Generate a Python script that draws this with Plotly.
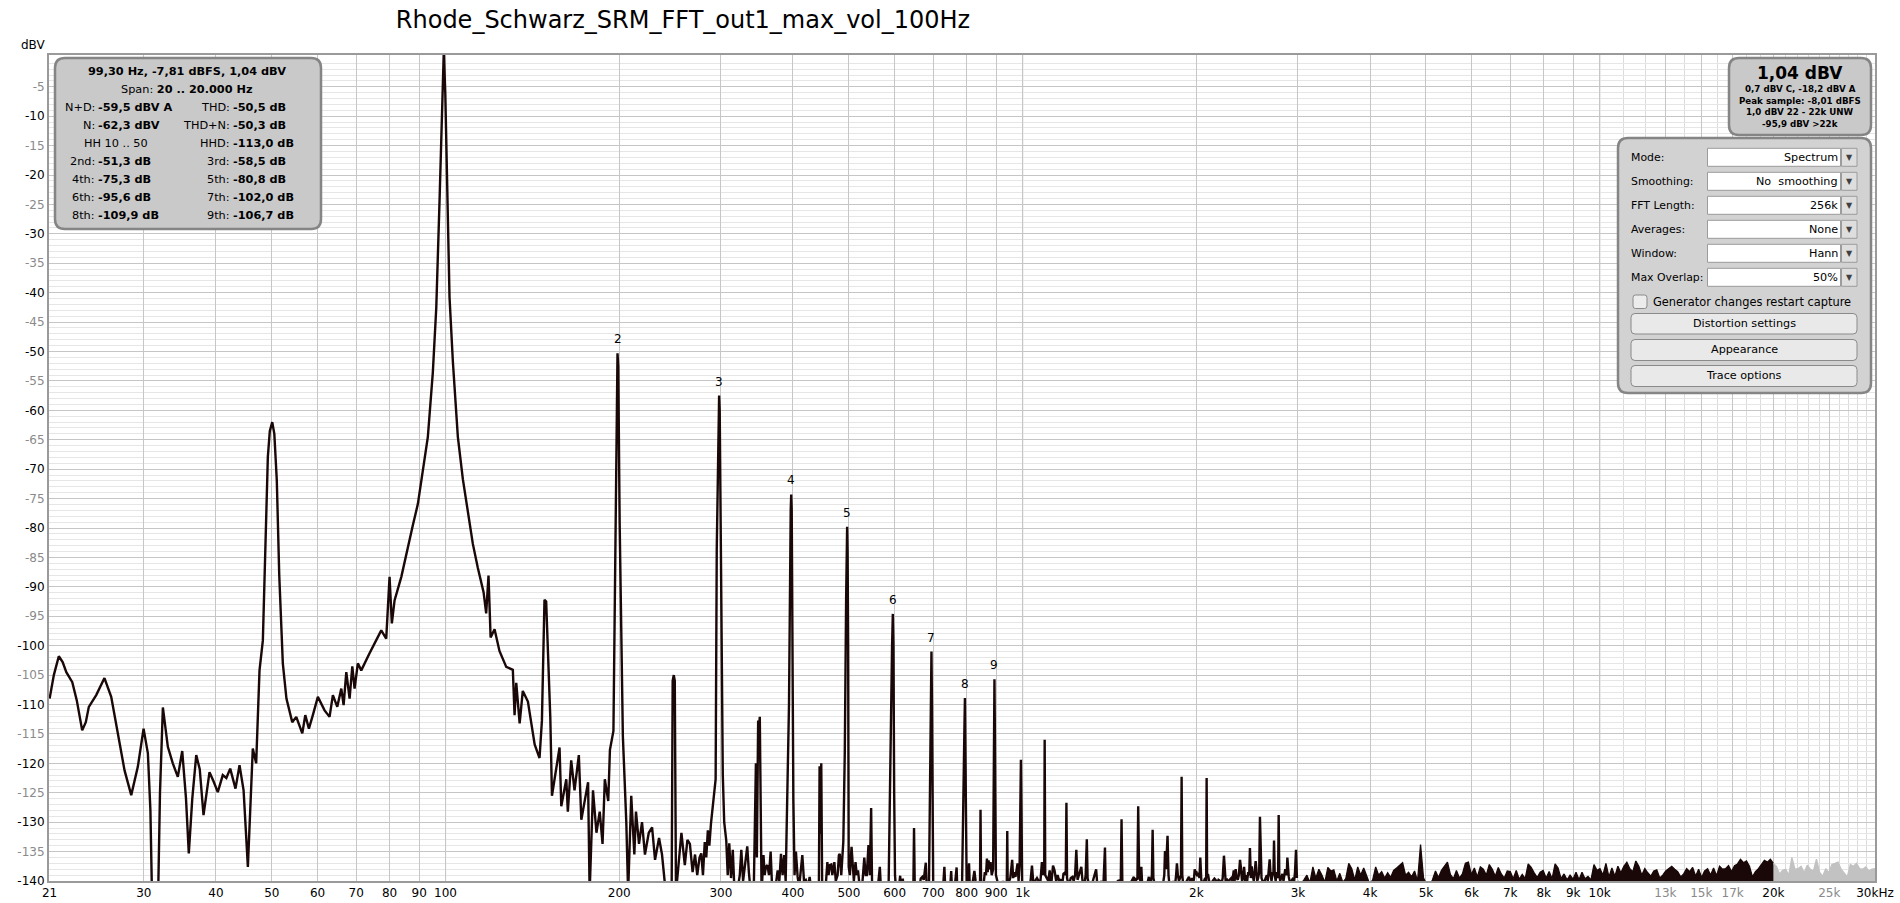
import numpy as np
import plotly.graph_objects as go

# ---------------------------------------------------------------- data
TITLE = "Rhode_Schwarz_SRM_FFT_out1_max_vol_100Hz"

# (Hz, dBV): fundamental region 20 Hz .. 203 Hz
BAND_LOW = [
    (20.6, -109.0), (20.95, -105.0), (21.37, -101.8), (21.7, -102.8), (22.02, -104.5),
    (22.55, -106.2), (22.96, -109.3), (23.46, -114.4), (23.8, -113.0), (24.09, -110.4),
    (24.81, -108.4), (25.64, -105.5), (26.34, -108.7), (27.04, -114.9), (27.78, -121.2),
    (28.53, -125.4), (29.29, -120.6), (29.97, -114.1), (30.49, -118.3), (30.8, -128.0),
    (31.03, -145.0), (31.73, -145.0), (32.0, -125.0), (32.37, -110.5), (33.02, -117.2),
    (33.68, -120.0), (34.36, -122.3), (34.97, -117.9), (35.5, -126.0), (35.9, -135.3),
    (36.4, -126.0), (36.98, -118.6), (37.5, -121.0), (38.07, -128.8), (38.99, -121.5),
    (39.6, -123.0), (40.3, -124.9), (41.11, -122.0), (41.7, -122.5), (42.35, -120.9),
    (43.25, -124.3), (43.95, -120.3), (44.67, -124.6), (45.44, -137.6), (46.0, -124.0),
    (46.34, -117.5), (46.97, -120.0), (47.6, -104.2), (48.24, -99.1), (48.7, -85.0),
    (49.21, -67.9), (49.6, -63.5), (50.08, -62.0), (50.5, -64.0), (51.0, -71.9),
    (51.5, -88.0), (52.24, -103.0), (53.0, -109.0), (54.24, -113.0), (55.12, -112.1),
    (56.46, -114.9), (57.14, -111.8), (57.97, -114.1), (58.89, -111.8), (60.08, -108.7),
    (61.71, -111.0), (62.95, -112.1), (63.79, -108.4), (64.92, -110.4), (65.97, -107.3),
    (66.58, -110.1), (67.3, -104.5), (68.19, -109.0), (68.93, -103.5), (69.56, -107.3),
    (70.47, -103.0), (71.44, -104.2), (73.84, -101.3), (75.84, -99.1), (77.37, -97.4),
    (78.92, -98.8), (79.98, -88.3), (80.71, -96.2), (81.59, -92.3), (83.82, -88.3),
    (86.03, -83.1), (87.78, -79.5), (89.55, -75.9), (91.34, -69.9), (93.18, -64.5),
    (95.06, -53.5), (96.36, -42.6), (97.63, -24.4), (98.69, -6.2), (99.3, 1.04),
    (99.9, -6.2), (100.68, -24.4), (101.6, -40.8), (102.96, -51.7), (105.03, -64.5),
    (107.15, -71.7), (109.3, -77.2), (111.51, -82.7), (113.76, -86.8), (116.38, -90.9),
    (117.6, -94.5), (118.7, -88.1), (119.7, -98.6), (121.6, -97.2), (124.0, -100.9),
    (127.4, -103.6), (130.8, -104.1), (131.7, -111.8), (132.6, -106.3), (134.4, -113.2),
    (136.1, -107.7), (138.9, -109.5), (142.7, -116.8), (145.5, -119.1), (146.9, -112.7),
    (148.4, -92.2), (149.4, -92.5), (150.4, -100.0), (151.9, -112.3), (152.9, -125.5),
    (155.6, -120.9), (157.6, -117.3), (158.7, -127.3), (161.9, -122.7), (162.9, -128.2),
    (165.1, -119.5), (167.3, -124.6), (170.2, -118.6), (171.9, -129.6), (174.2, -126.4),
    (176.6, -123.2), (177.7, -142.0), (180.1, -124.6), (182.6, -131.8), (185.0, -128.2),
    (187.1, -133.7), (188.8, -122.7), (191.4, -126.4), (192.7, -117.7), (195.4, -114.5),
    (197.1, -79.0), (198.1, -55.0), (199.2, -52.5), (200.3, -79.0), (202.9, -115.4),
]

# (Hz, dBV) 205 Hz .. 1 kHz: noise floor, hum lines and harmonic skirts
BAND_MID = [
    (205.7, -130.0), (207.2, -142.0), (209.8, -125.5), (212.4, -135.5), (213.8, -128.2),
    (216.4, -133.7), (219.0, -130.0), (221.6, -135.5), (225.0, -131.8), (228.0, -130.9),
    (230.7, -136.4), (234.4, -132.7), (237.2, -135.5), (240.8, -142.0), (246.5, -142.0),
    (247.5, -106.0), (248.6, -105.0), (249.6, -106.0), (250.8, -142.0), (256.3, -131.8),
    (259.8, -137.3), (262.5, -133.0), (265.1, -133.7), (268.0, -138.5), (270.6, -135.5),
    (273.0, -139.0), (275.5, -136.0), (277.4, -135.3), (279.3, -139.0), (281.3, -133.4),
    (283.0, -136.0), (284.8, -131.4), (286.5, -134.0), (288.4, -130.2), (290.1, -128.0),
    (292.0, -126.0), (293.8, -122.7), (295.1, -83.6), (297.3, -60.0), (298.6, -60.0),
    (300.3, -83.6), (302.3, -122.0), (304.0, -130.0), (306.5, -133.1), (308.3, -139.0),
    (310.2, -133.6), (312.4, -139.5), (314.6, -134.7), (316.5, -141.0), (320.0, -142.0),
    (323.5, -139.0), (325.5, -134.7), (327.8, -140.0), (330.0, -137.5), (333.3, -134.1),
    (335.5, -138.6), (338.0, -142.0), (342.0, -142.0), (345.0, -120.0), (346.3, -136.0),
    (348.1, -112.7), (349.2, -114.0), (350.4, -112.1), (352.9, -142.0), (355.6, -135.6),
    (357.3, -139.0), (359.0, -137.6), (361.2, -137.3), (363.5, -139.0), (365.9, -135.0),
    (368.0, -141.0), (372.0, -142.0), (376.3, -138.2), (378.8, -140.0), (381.3, -135.4),
    (383.8, -139.0), (386.3, -135.6), (388.5, -140.0), (391.4, -126.0), (393.7, -110.0),
    (396.4, -77.0), (398.0, -77.0), (399.5, -112.0), (400.6, -126.0), (402.5, -139.0),
    (404.7, -135.0), (407.5, -139.3), (410.0, -141.0), (415.2, -135.6), (418.0, -140.0),
    (421.0, -139.8), (424.5, -141.0), (427.5, -139.3), (431.0, -142.0), (438.0, -142.0),
    (443.5, -142.0), (444.8, -120.5), (446.3, -132.0), (447.8, -120.0), (449.5, -142.0),
    (455.0, -142.0), (458.8, -136.8), (461.0, -139.0), (463.5, -137.3), (466.0, -137.2),
    (468.0, -139.0), (471.8, -136.8), (474.5, -140.0), (478.0, -139.0), (480.4, -135.6),
    (482.1, -135.4), (485.0, -139.0), (489.0, -133.3), (491.9, -118.0), (494.5, -92.0),
    (495.6, -84.0), (497.4, -84.0), (498.5, -100.0), (499.6, -137.6), (502.0, -139.0),
    (505.3, -134.2), (508.0, -139.0), (510.0, -140.0), (513.4, -136.8), (516.0, -139.0),
    (518.5, -138.2), (522.0, -141.0), (527.0, -141.0), (531.7, -136.0), (534.5, -139.0),
    (537.0, -139.0), (540.6, -133.9), (543.5, -139.0), (546.4, -127.6), (548.5, -141.0),
    (553.0, -142.0), (560.0, -142.0), (565.7, -137.6), (568.0, -141.0), (575.0, -142.0),
    (582.0, -142.0), (586.0, -140.0), (588.5, -125.0), (591.0, -112.0), (594.0, -100.0),
    (597.3, -100.0), (599.0, -125.0), (601.0, -139.0), (604.0, -142.0), (609.0, -142.0),
    (613.5, -139.1), (616.0, -142.0), (620.0, -139.6), (623.0, -142.0), (635.0, -142.0),
    (646.5, -142.0), (648.4, -131.0), (650.5, -142.0), (660.0, -142.0), (666.0, -139.6),
    (670.2, -139.3), (674.0, -139.8), (679.6, -136.9), (682.0, -141.0), (688.0, -142.0),
    (691.0, -125.0), (693.5, -110.0), (696.5, -110.0), (698.5, -128.0), (700.0, -141.0),
    (705.0, -142.0), (718.0, -142.0), (727.0, -142.0), (731.9, -137.6), (735.0, -142.0),
    (748.0, -142.0), (752.0, -138.3), (755.0, -142.0), (761.0, -142.0), (768.5, -137.7),
    (771.0, -142.0), (785.0, -142.0), (790.0, -128.0), (792.5, -115.0), (796.0, -115.0),
    (798.0, -130.0), (800.0, -141.0), (804.0, -142.0), (807.5, -137.0), (810.0, -141.0),
    (820.0, -140.0), (825.0, -138.3), (829.0, -140.0), (836.0, -142.0), (843.5, -142.0),
    (845.4, -127.9), (847.5, -142.0), (855.0, -141.0), (860.0, -138.5), (864.0, -139.0),
    (867.3, -136.2), (870.0, -138.5), (873.0, -136.5), (876.0, -138.0), (880.0, -136.8),
    (884.0, -139.0), (889.0, -138.0), (891.0, -125.0), (892.8, -112.0), (894.8, -112.0),
    (896.5, -125.0), (899.0, -139.0), (904.0, -140.0), (910.0, -142.0), (918.0, -142.0),
    (925.0, -140.0), (930.0, -142.0), (938.5, -142.0), (940.6, -131.5), (942.5, -142.0),
    (948.0, -140.0), (952.0, -139.5), (959.2, -136.4), (963.0, -139.5), (968.0, -138.5),
    (972.0, -139.3), (980.0, -137.0), (984.0, -140.0), (988.0, -137.4), (991.5, -125.0),
    (993.3, -119.4), (995.5, -128.0), (998.0, -140.0), (1003.0, -142.0),
]

# (Hz, dBV) 1 kHz .. 3 kHz
BAND_UPPER = [
    (1012, -142.0), (1020, -141.0), (1030, -141.0), (1038, -137.4), (1045, -141.0),
    (1051, -140.0), (1059, -139.5), (1066, -140.0), (1072, -141.0), (1080, -136.8),
    (1085, -139.0), (1090, -138.0), (1092, -116.0), (1094.5, -139.0), (1102, -139.7),
    (1108, -140.0), (1114, -138.2), (1120, -141.0), (1129, -137.4), (1136, -138.2),
    (1143, -140.0), (1150, -139.0), (1157, -140.0), (1164, -139.7), (1170, -141.0),
    (1177, -138.8), (1183, -138.6), (1188, -139.0), (1191, -126.7), (1194, -139.5),
    (1202, -140.8), (1212, -139.5), (1220, -139.3), (1226, -140.0), (1233, -139.0),
    (1239, -134.7), (1245, -139.8), (1252, -139.0), (1258, -138.0), (1264, -137.6),
    (1270, -140.0), (1278, -141.0), (1286, -139.0), (1292, -132.9), (1296, -139.5),
    (1305, -141.0), (1315, -141.0), (1325, -139.8), (1335, -139.0), (1341, -138.0),
    (1348, -141.0), (1358, -141.0), (1370, -140.0), (1380, -141.0), (1389, -134.3),
    (1393, -141.0), (1405, -141.0), (1420, -141.0), (1435, -141.0), (1450, -141.0),
    (1462, -140.0), (1473, -139.9), (1479, -141.0), (1484, -129.5), (1489, -141.0),
    (1502, -141.0), (1515, -141.0), (1530, -141.0), (1545, -140.0), (1552, -139.5),
    (1559, -139.3), (1565, -141.0), (1575, -139.5), (1581, -139.8), (1586, -127.3),
    (1592, -139.0), (1600, -140.0), (1606, -137.6), (1612, -141.0), (1622, -141.0),
    (1630, -140.5), (1640, -141.0), (1648, -140.0), (1655, -139.3), (1662, -141.0),
    (1670, -140.0), (1675, -139.0), (1680, -131.3), (1685, -139.5), (1698, -141.0),
    (1710, -141.0), (1722, -140.5), (1735, -141.0), (1748, -141.0), (1756, -140.0),
    (1760, -139.0), (1765, -134.9), (1772, -138.0), (1783, -132.3), (1790, -139.0),
    (1798, -141.0), (1812, -141.0), (1825, -140.0), (1836, -141.0), (1845, -139.0),
    (1851, -137.0), (1858, -139.0), (1866, -140.0), (1874, -139.5), (1881, -139.0),
    (1886, -122.3), (1891, -139.0), (1900, -141.0), (1912, -141.0), (1925, -140.0),
    (1934, -139.6), (1942, -139.3), (1950, -140.0), (1958, -140.2), (1966, -139.5),
    (1975, -140.5), (1982, -139.5), (1987, -138.0), (1993, -139.0), (1999, -138.3),
    (2008, -139.2), (2018, -138.6), (2025, -139.5), (2032, -136.0), (2040, -139.8),
    (2050, -140.5), (2062, -140.0), (2072, -139.5), (2080, -140.0), (2084, -122.5),
    (2088, -139.0), (2095, -138.8), (2105, -140.0), (2120, -140.5), (2135, -140.0),
    (2150, -139.6), (2160, -139.8), (2170, -140.5), (2185, -139.8), (2200, -140.0),
    (2210, -140.5), (2222, -139.5), (2233, -135.7), (2240, -139.0), (2248, -140.0),
    (2258, -139.6), (2270, -140.2), (2285, -139.8), (2300, -139.5), (2310, -140.0),
    (2322, -138.2), (2330, -140.0), (2340, -138.0), (2350, -139.5), (2360, -139.8),
    (2370, -139.0), (2381, -136.4), (2390, -137.8), (2400, -140.0), (2410, -139.5),
    (2420, -137.6), (2430, -140.0), (2440, -139.0), (2450, -140.0), (2460, -138.5),
    (2470, -139.0), (2477, -134.4), (2486, -139.5), (2495, -137.5), (2505, -139.0),
    (2515, -140.0), (2525, -138.5), (2534, -136.6), (2542, -138.0), (2550, -140.0),
    (2560, -139.5), (2570, -138.5), (2578, -129.1), (2586, -138.0), (2594, -139.5),
    (2605, -140.0), (2620, -140.3), (2635, -139.6), (2650, -139.0), (2660, -140.0),
    (2670, -138.5), (2680, -136.3), (2690, -139.0), (2700, -140.0), (2712, -138.5),
    (2720, -139.0), (2727, -133.1), (2735, -139.0), (2745, -140.0), (2755, -138.5),
    (2765, -139.5), (2772, -138.5), (2778, -128.8), (2785, -139.0), (2795, -140.0),
    (2808, -139.5), (2820, -138.8), (2832, -140.0), (2842, -139.3), (2852, -138.0),
    (2862, -139.0), (2870, -138.5), (2876, -136.0), (2883, -138.5), (2892, -139.3),
    (2902, -140.0), (2915, -140.3), (2930, -139.8), (2945, -139.5), (2955, -140.0),
    (2965, -138.5), (2977, -134.7), (2988, -139.5),
]

# harmonic peaks of the 99.3 Hz fundamental
HARM_N = [2, 3, 4, 5, 6, 7, 8, 9]
HARM_F = [198.6, 297.9, 397.2, 496.5, 595.8, 695.1, 794.4, 893.7]
HARM_DB = [-50.3, -57.5, -74.3, -79.8, -94.6, -101.0, -108.9, -105.7]

# noise floor 3 kHz .. 20 kHz (dBV, read left to right, even spacing on the log axis)
NOISE_HI_RANGE = (3000.0, 20000.0)
NOISE_HI_DB = [
    -140.0, -140.5, -139.8, -139.0, -140.3, -137.6, -139.5, -138.0, -139.0, -140.2,
    -137.7, -138.3, -138.1, -140.0, -138.7, -140.2, -139.6, -137.0, -137.9, -139.8,
    -137.6, -139.0, -137.8, -139.0, -140.5, -139.8, -137.6, -139.0, -138.4, -139.5,
    -138.6, -139.4, -138.2, -137.8, -137.3, -136.9, -139.0, -138.5, -139.3, -138.3,
    -140.0, -133.8, -139.5, -140.5, -140.8, -139.8, -138.3, -139.4, -138.2, -137.4,
    -136.8, -138.9, -139.6, -138.2, -139.5, -138.8, -137.0, -136.8, -138.9, -137.8,
    -139.3, -137.6, -138.0, -139.0, -137.2, -138.0, -139.2, -137.7, -138.8, -139.5,
    -138.3, -138.4, -139.6, -138.2, -139.7, -138.9, -139.6, -137.1, -137.7, -138.6,
    -139.4, -138.5, -138.2, -139.5, -138.4, -139.6, -137.1, -137.8, -139.6, -138.8,
    -139.8, -139.0, -139.7, -138.5, -139.8, -138.5, -139.6, -139.2, -139.8, -137.2,
    -138.2, -137.9, -139.0, -137.0, -139.3, -137.8, -139.2, -137.5, -138.6, -137.5,
    -136.8, -137.9, -138.4, -136.6, -137.5, -139.0, -137.9, -138.6, -139.2, -138.3,
    -138.1, -139.5, -139.0, -138.3, -137.9, -137.5, -138.0, -138.4, -139.3, -138.8,
    -137.9, -138.4, -137.7, -139.2, -138.0, -139.4, -138.3, -137.9, -139.0, -137.8,
    -139.1, -137.5, -138.0, -137.9, -137.4, -138.4, -137.4, -137.1, -136.3, -136.9,
    -136.6, -137.5, -139.3, -138.4, -137.9, -137.1, -136.5, -136.8, -136.3, -137.0,
]

# out-of-band noise 20 kHz .. 30 kHz (drawn grey)
NOISE_UL_RANGE = (20000.0, 30000.0)
NOISE_UL_DB = [
    -137.0, -137.5, -138.8, -138.2, -138.0, -139.0, -136.0, -138.0, -137.9, -137.5,
    -138.6, -137.3, -138.0, -138.3, -136.3, -138.5, -139.2, -137.9, -138.6, -137.2,
    -137.0, -136.8, -138.0, -138.6, -139.3, -137.2, -137.5, -137.0, -137.9, -138.0,
    -137.6, -138.3, -138.0, -137.9,
]

X_TICK_VALS = [20.6, 30, 40, 50, 60, 70, 80, 90, 100, 200, 300, 400, 500, 600, 700, 800, 900,
               1000, 2000, 3000, 4000, 5000, 6000, 7000, 8000, 9000, 10000, 13000, 15000,
               17000, 20000, 25000, 30000]
X_TICK_TEXT = ["21", "30", "40", "50", "60", "70", "80", "90", "100", "200", "300", "400", "500",
               "600", "700", "800", "900", "1k", "2k", "3k", "4k", "5k", "6k", "7k", "8k", "9k",
               "10k", "13k", "15k", "17k", "20k", "25k", "30kHz"]
X_TICK_GREY = ["13k", "15k", "17k", "25k"]
X_MINOR_VALS = [11000, 12000, 14000, 16000, 18000, 19000, 21000, 22000, 23000, 24000,
                26000, 27000, 28000, 29000]
X_DECADES = [100, 1000, 10000]
Y_TICK_VALS = list(range(-5, -141, -5))
Y_MINOR_VALS = list(range(-1, -140, -1))

INFO_HEAD = ["<b>99,30 Hz, -7,81 dBFS, 1,04 dBV</b>", "Span: <b>20 .. 20.000 Hz</b>"]
INFO_LEFT_LABELS = ["N+D:", "N:", "", "2nd:", "4th:", "6th:", "8th:"]
INFO_LEFT_VALUES = ["-59,5 dBV A", "-62,3 dBV", "", "-51,3 dB", "-75,3 dB", "-95,6 dB", "-109,9 dB"]
INFO_RIGHT_LABELS = ["THD:", "THD+N:", "HHD:", "3rd:", "5th:", "7th:", "9th:"]
INFO_RIGHT_VALUES = ["-50,5 dB", "-50,3 dB", "-113,0 dB", "-58,5 dB", "-80,8 dB", "-102,0 dB", "-106,7 dB"]
INFO_HH = "HH 10 .. 50"

LEVEL_MAIN = "1,04 dBV"
LEVEL_LINES = ["0,7 dBV C, -18,2 dBV A", "Peak sample: -8,01 dBFS", "1,0 dBV 22 - 22k UNW", "-95,9 dBV >22k"]

CTRL_LABELS = ["Mode:", "Smoothing:", "FFT Length:", "Averages:", "Window:", "Max Overlap:"]
CTRL_VALUES = ["Spectrum", "No\u00a0 smoothing", "256k", "None", "Hann", "50%"]
CTRL_CHECK = "Generator changes restart capture"
CTRL_BUTTONS = ["Distortion settings", "Appearance", "Trace options"]

# ---------------------------------------------------------------- layout constants
W, H = 1900, 903
PL, PR, PT, PB = 49, 1875, 55, 881
F_MIN, F_MAX = 20.55, 30000.0
DB_MIN, DB_MAX = -140.0, 0.4
FONT = "DejaVu Sans"
LX0, LX1 = np.log10(F_MIN), np.log10(F_MAX)


def px(x):
    return (x - PL) / (PR - PL)


def py(y):
    return (PB - y) / (PB - PT)


def fx(f):
    return (np.log10(f) - LX0) / (LX1 - LX0)


def rrect(x0, y0, x1, y1, r):
    return (f"M {px(x0 + r)},{py(y0)} L {px(x1 - r)},{py(y0)} Q {px(x1)},{py(y0)} {px(x1)},{py(y0 + r)} "
            f"L {px(x1)},{py(y1 - r)} Q {px(x1)},{py(y1)} {px(x1 - r)},{py(y1)} "
            f"L {px(x0 + r)},{py(y1)} Q {px(x0)},{py(y1)} {px(x0)},{py(y1 - r)} "
            f"L {px(x0)},{py(y0 + r)} Q {px(x0)},{py(y0)} {px(x0 + r)},{py(y0)} Z")


# ---------------------------------------------------------------- traces
pts = BAND_LOW + BAND_MID + BAND_UPPER + list(zip(HARM_F, HARM_DB))
pts.sort(key=lambda p: p[0])
main_f = [p[0] for p in pts]
main_db = [p[1] for p in pts]

hi_f = list(np.geomspace(NOISE_HI_RANGE[0], NOISE_HI_RANGE[1], len(NOISE_HI_DB)))
ul_f = list(np.geomspace(NOISE_UL_RANGE[0], NOISE_UL_RANGE[1], len(NOISE_UL_DB)))

fig = go.Figure()
TRACE_COL = "#1a0808"
fig.add_trace(go.Scatter(x=main_f, y=main_db, mode="lines",
                         line=dict(color=TRACE_COL, width=2.4), hoverinfo="skip", showlegend=False))
fig.add_trace(go.Scatter(x=hi_f + [NOISE_HI_RANGE[1], NOISE_HI_RANGE[0]],
                         y=NOISE_HI_DB + [-150, -150], mode="lines", fill="toself",
                         fillcolor=TRACE_COL, line=dict(color=TRACE_COL, width=1.3),
                         hoverinfo="skip", showlegend=False))
fig.add_trace(go.Scatter(x=ul_f + [NOISE_UL_RANGE[1], NOISE_UL_RANGE[0]],
                         y=NOISE_UL_DB + [-150, -150], mode="lines", fill="toself",
                         fillcolor="#c2c2c2", line=dict(color="#c2c2c2", width=1.3),
                         hoverinfo="skip", showlegend=False))

# ---------------------------------------------------------------- shapes
shapes = []
shapes.append(dict(type="rect", xref="paper", yref="paper", x0=fx(20000), x1=1, y0=0, y1=1,
                   fillcolor="rgba(255,255,255,0.6)", line=dict(width=0), layer="between"))
for d in X_DECADES:
    shapes.append(dict(type="line", xref="paper", yref="paper", x0=fx(d), x1=fx(d), y0=0, y1=1,
                       line=dict(color="#8c8c8c", width=1), layer="between"))

PANEL_LINE = "#858585"
shapes.append(dict(type="path", xref="paper", yref="paper", path=rrect(55, 58, 321, 229, 10),
                   fillcolor="#c9c9c9", line=dict(color=PANEL_LINE, width=2.5), layer="above"))
shapes.append(dict(type="path", xref="paper", yref="paper", path=rrect(1729, 58, 1871, 135, 10),
                   fillcolor="#c9c9c9", line=dict(color=PANEL_LINE, width=2.5), layer="above"))
shapes.append(dict(type="path", xref="paper", yref="paper", path=rrect(1618, 138, 1871, 393, 10),
                   fillcolor="#d2d2d2", line=dict(color=PANEL_LINE, width=2.5), layer="above"))

ROW_Y = [157.3, 181.3, 205.3, 229.3, 253.3, 277.3]
for yc in ROW_Y:
    shapes.append(dict(type="rect", xref="paper", yref="paper", x0=px(1707.5), x1=px(1840.5),
                       y0=py(yc + 9), y1=py(yc - 9), fillcolor="#ffffff",
                       line=dict(color="#9c9c9c", width=1), layer="above"))
    shapes.append(dict(type="rect", xref="paper", yref="paper", x0=px(1841.5), x1=px(1857),
                       y0=py(yc + 9), y1=py(yc - 9), fillcolor="#dedede",
                       line=dict(color="#9c9c9c", width=1), layer="above"))
shapes.append(dict(type="path", xref="paper", yref="paper", path=rrect(1633, 295, 1647, 308.5, 2.5),
                   fillcolor="#ececec", line=dict(color="#8a8a8a", width=1), layer="above"))
BTN_Y = [(313.5, 334), (339.5, 360.5), (365.5, 386.5)]
for (b0, b1) in BTN_Y:
    shapes.append(dict(type="path", xref="paper", yref="paper", path=rrect(1631, b0, 1857, b1, 4),
                       fillcolor="#e9e9e9", line=dict(color="#8a8a8a", width=1), layer="above"))

# ---------------------------------------------------------------- annotations
ann = []


def txt(x, y, s, size=11, anchor="center", color="#000000", family=FONT):
    ann.append(dict(xref="paper", yref="paper", x=px(x), y=py(y), text=s, showarrow=False,
                    xanchor=anchor, yanchor="middle", borderpad=0, borderwidth=0,
                    font=dict(family=family, size=size, color=color)))


for n, f, db in zip(HARM_N, HARM_F, HARM_DB):
    ann.append(dict(xref="paper", yref="y", x=fx(f), y=db, text=str(n), showarrow=False,
                    xanchor="center", yanchor="middle", yshift=14, borderpad=0,
                    font=dict(family=FONT, size=12, color="#000000")))

txt(33, 45.5, "dBV", size=12)

txt(187, 71.7, INFO_HEAD[0], size=11.3)
txt(187, 89.7, INFO_HEAD[1], size=11.3)
for k in range(7):
    yrow = 107.7 + 18 * k
    if INFO_LEFT_LABELS[k]:
        txt(94.5, yrow, INFO_LEFT_LABELS[k], anchor="right", size=11.3)
        txt(97.5, yrow, "<b>" + INFO_LEFT_VALUES[k] + "</b>", anchor="left", size=11.3)
    else:
        txt(116, yrow, INFO_HH, size=11.3)
    txt(229.5, yrow, INFO_RIGHT_LABELS[k], anchor="right", size=11.3)
    txt(232.5, yrow, "<b>" + INFO_RIGHT_VALUES[k] + "</b>", anchor="left", size=11.3)

txt(1800, 73, "<b>" + LEVEL_MAIN + "</b>", size=17)
for k, s in enumerate(LEVEL_LINES):
    txt(1800, 89 + 11.7 * k, "<b>" + s + "</b>", size=8.7)

for yc, lab, val in zip(ROW_Y, CTRL_LABELS, CTRL_VALUES):
    txt(1631, yc, lab, anchor="left", size=10.9)
    txt(1837.5, yc, val, anchor="right", size=11.2)
    txt(1849.3, yc + 0.5, "\u25bc", size=8, color="#404040")
txt(1653, 301.5, CTRL_CHECK, anchor="left", size=11.4)
for (b0, b1), s in zip(BTN_Y, CTRL_BUTTONS):
    txt(1744, (b0 + b1) / 2, s, size=11.2)

# ---------------------------------------------------------------- axes
GREY = "#8a8a8a"
x_text = [f'<span style="color:{GREY}">{t}</span>' if t in X_TICK_GREY else t for t in X_TICK_TEXT]
y_text = [str(v) if v % 10 == 0 else f'<span style="color:{GREY}">{v}</span>' for v in Y_TICK_VALS]

fig.update_layout(
    width=W, height=H,
    margin=dict(l=PL, r=W - PR, t=PT, b=H - PB, pad=0, autoexpand=False),
    paper_bgcolor="#ffffff", plot_bgcolor="#ffffff",
    title=dict(text=TITLE, x=683 / W, xref="container", xanchor="center",
               y=1 - 19.5 / H, yref="container", yanchor="middle",
               font=dict(family=FONT, size=24, color="#000000")),
    xaxis=dict(type="log", range=[LX0, LX1], tickmode="array", tickvals=X_TICK_VALS, ticktext=x_text,
               showgrid=True, gridcolor="#c6c6c6", gridwidth=1, zeroline=False, automargin=False,
               minor=dict(tickmode="array", tickvals=X_MINOR_VALS, showgrid=True,
                          gridcolor="#dcdcdc", ticks=""),
               showline=True, linecolor="#9a9a9a", linewidth=2, mirror=True, ticks="",
               tickfont=dict(family=FONT, size=12, color="#000000"), fixedrange=True),
    yaxis=dict(range=[DB_MIN, DB_MAX], tickmode="array", tickvals=Y_TICK_VALS, ticktext=y_text,
               showgrid=True, gridcolor="#c6c6c6", gridwidth=1, zeroline=False, automargin=False,
               minor=dict(tickmode="array", tickvals=Y_MINOR_VALS, showgrid=True,
                          gridcolor="#e6e6e6", ticks=""),
               showline=True, linecolor="#9a9a9a", linewidth=2, mirror=True, ticks="",
               tickfont=dict(family=FONT, size=12, color="#000000"), fixedrange=True),
    shapes=shapes, annotations=ann, showlegend=False,
)

fig.write_html("out.html", include_plotlyjs=True, config={"displayModeBar": False},
               post_script="document.body.style.margin='0';document.body.style.overflow='hidden';")
